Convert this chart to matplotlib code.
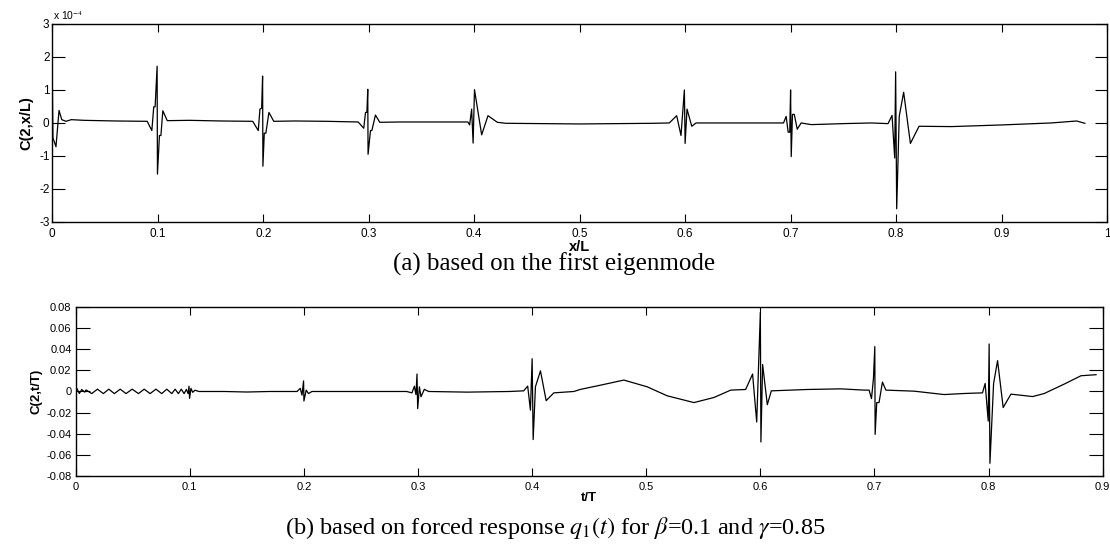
import matplotlib.pyplot as plt

plt.rcParams['font.family'] = ['Liberation Sans', 'DejaVu Sans']
plt.rcParams['axes.unicode_minus'] = False
plt.rcParams['mathtext.fontset'] = 'stix'

# (a) C(2,x/L) along the beam, values in units of 1e-4
x_eig = [0.0, 0.0006, 0.0035, 0.0064, 0.009, 0.013, 0.018, 0.03, 0.06, 0.09,
         0.0944, 0.0962, 0.0975, 0.0994, 0.0997, 0.1016, 0.1030, 0.1048, 0.109,
         0.13, 0.16, 0.19,
         0.1953, 0.1969, 0.1985, 0.1994, 0.1997, 0.2010, 0.2025, 0.2054, 0.21,
         0.23, 0.26, 0.29,
         0.2953, 0.2970, 0.2983, 0.2991, 0.2994, 0.3017, 0.3030, 0.3064, 0.3105,
         0.33, 0.37, 0.394,
         0.3957, 0.3976, 0.3990, 0.4003, 0.4071, 0.4131, 0.422,
         0.43, 0.50, 0.57,
         0.585, 0.592, 0.5961, 0.5993, 0.6000, 0.6018, 0.6063, 0.6104,
         0.65, 0.69,
         0.6933, 0.6958, 0.6977, 0.6992, 0.7000, 0.7006, 0.7018, 0.7035, 0.7063, 0.71,
         0.7196, 0.75, 0.7765,
         0.7924, 0.7962, 0.7987, 0.7996, 0.8006, 0.8030, 0.8072, 0.8136, 0.8218,
         0.8525, 0.90, 0.947, 0.9712, 0.979]
c_eig = [1.45, -0.45, -0.72, 0.38, 0.10, 0.05, 0.10, 0.08, 0.06, 0.05,
         -0.23, 0.49, 0.49, 1.72, -1.55, -0.38, -0.38, 0.37, 0.07,
         0.08, 0.06, 0.05,
         -0.23, 0.42, 0.45, 1.42, -1.31, -0.31, -0.31, 0.32, 0.05,
         0.06, 0.05, 0.03,
         -0.16, 0.32, 0.32, 1.02, -0.95, -0.23, -0.23, 0.24, 0.02,
         0.03, 0.03, 0.03,
         -0.06, 0.42, -0.61, 1.01, -0.36, 0.22, 0.02,
         -0.01, -0.03, -0.01,
         0.0, 0.22, -0.38, 1.0, -0.62, 0.42, -0.10, 0.0,
         0.0, 0.0,
         0.0, 0.20, -0.28, -0.28, 1.0, -1.02, 0.26, 0.26, -0.19, 0.0,
         -0.05, -0.02, 0.0,
         -0.02, 0.23, -1.06, 1.55, -2.6, 0.2, 0.93, -0.62, -0.10,
         -0.11, -0.06, 0.0, 0.06, -0.01]

# (b) C(2,t/T) from the forced response
t_resp = [0.0, 0.0032, 0.0053, 0.0079, 0.0091, 0.014, 0.0191, 0.0242, 0.029, 0.0339,
          0.039, 0.0441, 0.0495, 0.055, 0.060, 0.0652, 0.0703, 0.0754, 0.0798,
          0.0842, 0.0871, 0.090, 0.0925, 0.095,
          0.097, 0.0985, 0.0993, 0.0998, 0.101, 0.1025, 0.1045, 0.108,
          0.13, 0.15, 0.17, 0.194,
          0.1968, 0.1983, 0.1997, 0.2000, 0.202, 0.204, 0.207,
          0.24, 0.27, 0.29,
          0.2947, 0.2968, 0.2982, 0.2991, 0.2997, 0.3012, 0.3026, 0.3055, 0.3093,
          0.343, 0.38, 0.3926,
          0.3961, 0.3985, 0.4000, 0.4009, 0.4029, 0.4073, 0.4123, 0.419, 0.4365,
          0.4424, 0.46, 0.4804, 0.5009, 0.5184, 0.5418, 0.5593, 0.574,
          0.5871, 0.5932, 0.5968, 0.6000, 0.6005, 0.602, 0.6061, 0.6096,
          0.6412, 0.6704, 0.6909,
          0.6953, 0.6974, 0.6991, 0.7003, 0.7006, 0.702, 0.704, 0.707, 0.71,
          0.7348, 0.7611, 0.7786, 0.7947,
          0.797, 0.7997, 0.8005, 0.8012, 0.8044, 0.8079, 0.8128, 0.8196,
          0.8386, 0.8488, 0.8663, 0.881, 0.8942]
c_resp = [0.005, -0.0019, 0.0019, -0.0006, 0.0015, -0.002, 0.0022, -0.002, 0.0022, -0.002,
          0.0022, -0.002, 0.0022, -0.002, 0.0022, -0.002, 0.0022, -0.002, 0.0022,
          -0.002, 0.0022, -0.002, 0.0022, -0.002,
          0.002, -0.002, 0.005, -0.0065, 0.003, -0.0008, 0.0012, 0.0,
          0.0, -0.0005, 0.0, 0.0,
          0.003, -0.0035, 0.010, -0.009, 0.0013, -0.002, 0.0,
          0.0, 0.0, 0.0,
          -0.0013, 0.005, -0.003, 0.0165, -0.0162, 0.0044, -0.005, 0.002, 0.0,
          -0.0006, 0.0, 0.0006,
          0.0051, -0.0177, 0.031, -0.0455, 0.0045, 0.0195, -0.0087, -0.0013, 0.0,
          0.002, 0.006, 0.0108, 0.0044, -0.0041, -0.0105, -0.0057, 0.0013,
          0.0019, 0.0165, -0.0289, 0.075, -0.0478, 0.0255, -0.0125, 0.0006,
          0.0019, 0.0025, 0.0013,
          0.0013, -0.0067, 0.012, 0.0425, -0.0406, -0.0105, -0.0105, 0.0089, 0.0013,
          0.0003, -0.0029, -0.0019, -0.0013,
          0.0076, -0.028, 0.045, -0.068, 0.0076, 0.0292, -0.0152, -0.0025,
          -0.0048, -0.0019, 0.007, 0.0149, 0.0159]

xticks_a = [0, 0.1, 0.2, 0.3, 0.4, 0.5, 0.6, 0.7, 0.8, 0.9, 1]
xlabels_a = ['0', '0.1', '0.2', '0.3', '0.4', '0.5', '0.6', '0.7', '0.8', '0.9', '1']
yticks_a = [-3, -2, -1, 0, 1, 2, 3]
xticks_b = [0, 0.1, 0.2, 0.3, 0.4, 0.5, 0.6, 0.7, 0.8, 0.9]
xlabels_b = ['0', '0.1', '0.2', '0.3', '0.4', '0.5', '0.6', '0.7', '0.8', '0.9']
yticks_b = [-0.08, -0.06, -0.04, -0.02, 0, 0.02, 0.04, 0.06, 0.08]
ylabels_b = ['-0.08', '-0.06', '-0.04', '-0.02', '0', '0.02', '0.04', '0.06', '0.08']

fig = plt.figure(figsize=(11.1, 5.47), dpi=100, facecolor='white')

# panel (a)
ax1 = fig.add_axes([0.0471, 0.5942, 0.9502, 0.3620])
ax1.plot(x_eig, c_eig, color='black', linewidth=0.9)
ax1.set_xlim(0, 1)
ax1.set_ylim(-3, 3)
ax1.set_xticks(xticks_a)
ax1.set_xticklabels(xlabels_a)
ax1.set_yticks(yticks_a)
ax1.tick_params(axis='x', direction='in', length=6, width=0.8, top=True, pad=4, labelsize=8.5)
ax1.tick_params(axis='y', direction='in', length=9, width=0.8, right=True, pad=2, labelsize=8.5)
ax1.set_xlabel('x/L', fontsize=10.5, fontweight='bold', labelpad=0)
ax1.set_ylabel('C(2,x/L)', fontsize=10.5, fontweight='bold', labelpad=4)
for s in ax1.spines.values():
    s.set_linewidth(1.0)
fig.text(0.048, 0.972, 'x 10$^{-4}$', fontsize=7.5, ha='left', va='center')

# panel (b)
ax2 = fig.add_axes([0.0682, 0.1298, 0.9252, 0.3090])
ax2.plot(t_resp, c_resp, color='black', linewidth=0.9)
ax2.set_xlim(0, 0.9)
ax2.set_ylim(-0.08, 0.08)
ax2.set_xticks(xticks_b)
ax2.set_xticklabels(xlabels_b)
ax2.set_yticks(yticks_b)
ax2.set_yticklabels(ylabels_b)
ax2.tick_params(axis='x', direction='in', length=6, width=0.8, top=True, pad=4, labelsize=8)
ax2.tick_params(axis='y', direction='in', length=10, width=0.8, right=True, pad=3, labelsize=8)
ax2.set_xlabel('t/T', fontsize=9.5, fontweight='bold', labelpad=0)
ax2.set_ylabel('C(2,t/T)', fontsize=9.5, fontweight='bold', labelpad=3)
for s in ax2.spines.values():
    s.set_linewidth(1.0)

# captions
fig.text(0.499, 0.517, '(a) based on the first eigenmode', fontsize=18,
         family='Liberation Serif', ha='center', va='center')
fig.text(0.500, 0.035,
         r'(b) based on forced response $q_1(t)$ for $\beta$=0.1 and $\gamma$=0.85',
         fontsize=17.5, family='Liberation Serif', ha='center', va='center')

fig.savefig('out.png', dpi=100, facecolor='white')
